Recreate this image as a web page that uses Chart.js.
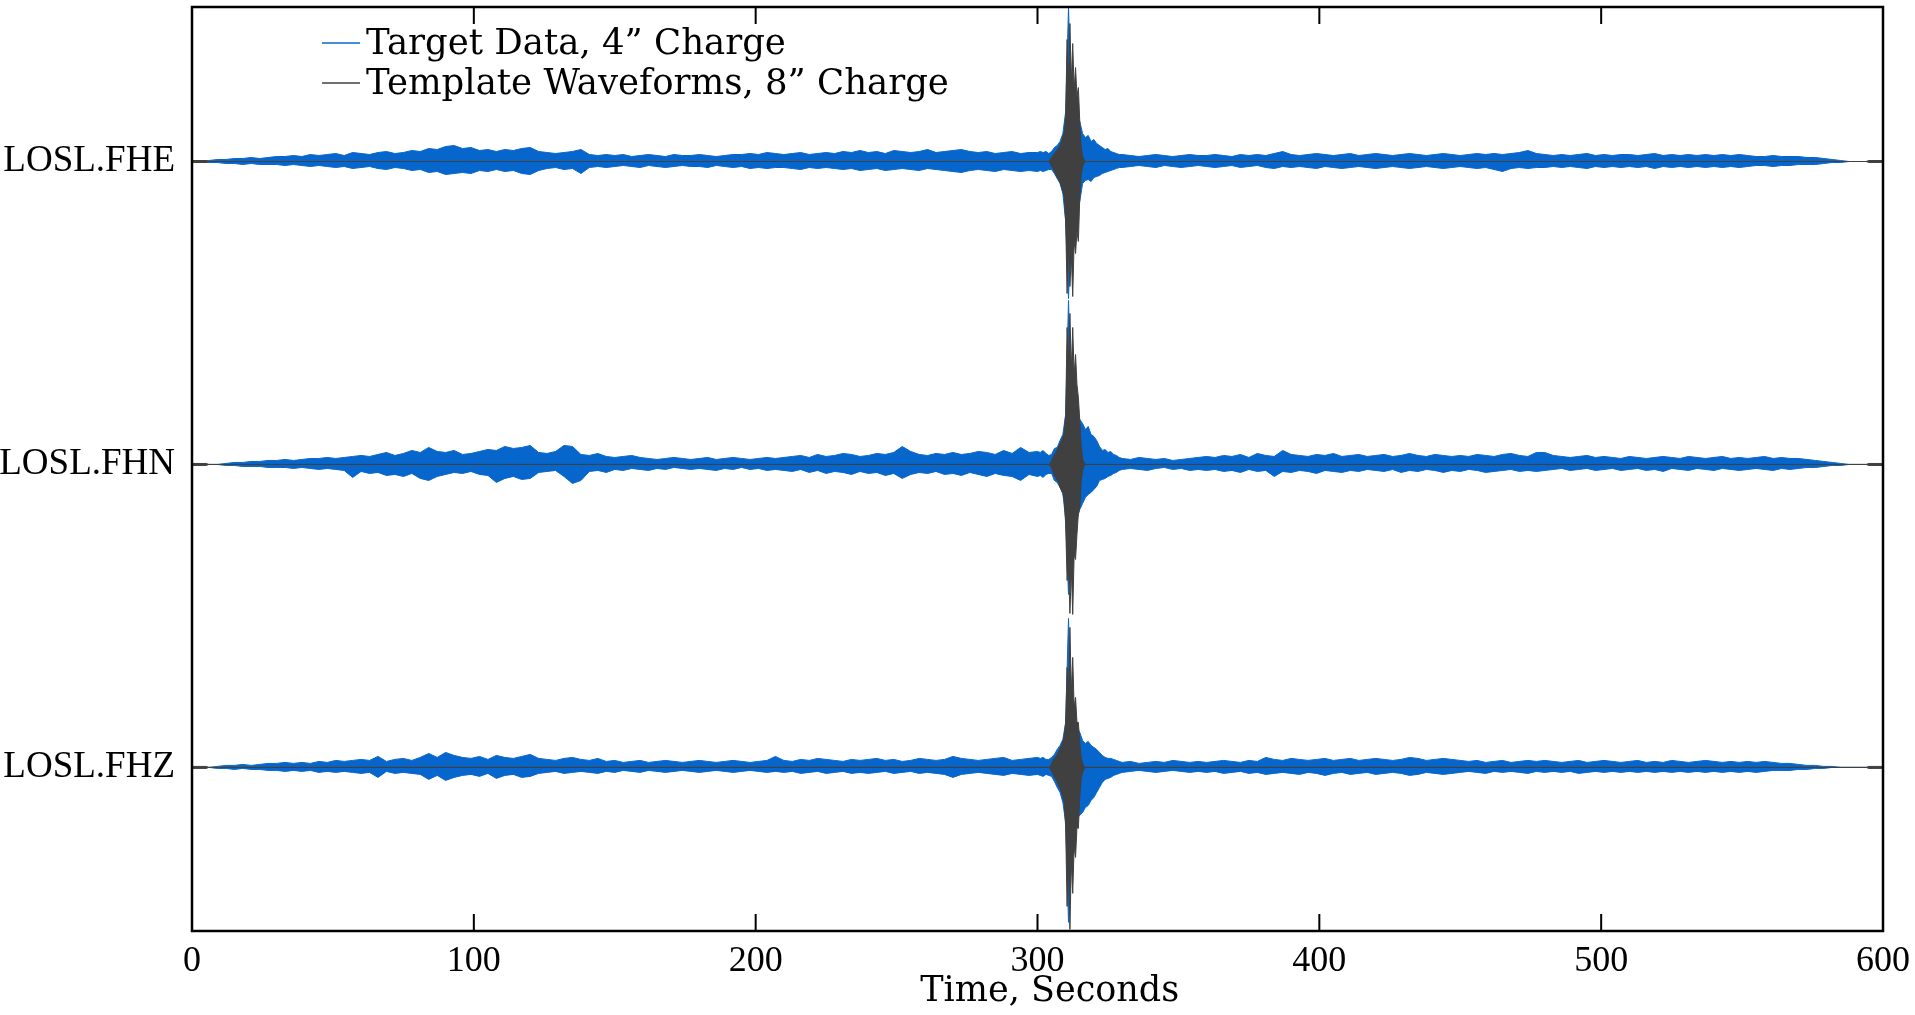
<!DOCTYPE html>
<html lang="en">
<head>
<meta charset="UTF-8" />
<title>LOSL waveforms</title>
<script src="https://cdn.jsdelivr.net/npm/chart.js"></script>
<style>
  html, body { margin: 0; padding: 0; background: #fff; }
  .wrap { width: 1915px; height: 1015px; position: relative; }
</style>
</head>
<body>
<div class="wrap"><canvas id="waveChart"></canvas></div>
<script>
const stations = ["LOSL.FHE", "LOSL.FHN", "LOSL.FHZ"];
const traceCenters = [3, 2, 1];
const xTicks = [0, 100, 200, 300, 400, 500, 600];
const seriesLabels = ["Target Data, 4\u201d Charge", "Template Waveforms, 8\u201d Charge"];

// sample times (s) of the target data envelope
const times = [
  0,3,6,9,12,15,18,21,24,27, 30,33,36,39,42,45,48,51,54,57,
  60,63,66,69,72,75,78,81,84,87, 90,93,96,99,102,105,108,111,114,117,
  120,123,126,129,132,135,138,141,144,147, 150,153,156,159,162,165,168,171,174,177,
  180,183,186,189,192,195,198,201,204,207, 210,213,216,219,222,225,228,231,234,237,
  240,243,246,249,252,255,258,261,264,267, 270,273,276,279,282,285,288,291,294,297,
  300,
  301,302,303,304,305,306,307,308,309,310, 311,312,313,314,315,316,317,318,319,320,
  321,322,323,324,325,326,327,328,329,
  330,333,336,339,342,345,348,351,354,357, 360,363,366,369,372,375,378,381,384,387,
  390,393,396,399,402,405,408,411,414,417, 420,423,426,429,432,435,438,441,444,447,
  450,453,456,459,462,465,468,471,474,477, 480,483,486,489,492,495,498,501,504,507,
  510,513,516,519,522,525,528,531,534,537, 540,543,546,549,552,555,558,561,564,567,
  570,573,576,579,582,585,588,591,594,597,
  600
];

// target data: upper / lower peak amplitude (counts)
const fheUp = [
  0,0,1,2,2,3,3,4,3,4, 5,5,6,5,7,6,7,8,6,9, 8,7,9,10,8,9,11,10,13,12, 15,16,13,14,11,12,10,12,11,13,
  14,10,9,8,9,10,12,7,6,7, 6,7,5,6,7,6,5,7,6,6, 7,6,5,6,7,7,8,7,9,8, 7,8,9,7,8,9,8,10,9,11,
  9,10,8,11,10,9,10,12,9,10, 11,12,10,9,10,8,9,10,8,9, 9,
  10,9,10,8,10,14,16,20,28,50, 154,55,50,45,40,28,24,26,20,22, 18,16,14,12,13,10,9,8,7,
  7,6,5,6,7,6,5,6,7,6, 6,7,6,5,7,6,7,6,8,10, 7,6,7,8,7,6,7,8,6,7, 8,7,6,7,8,7,6,7,8,7,
  6,7,8,7,8,7,8,9,11,8, 7,6,7,6,7,8,6,7,6,7, 7,6,7,8,6,7,6,7,6,7, 6,7,6,7,6,5,5,6,5,5,
  5,4,4,3,2,1,0,0,0,0, 0
];
const fheDown = [
  0,0,1,1,2,2,3,2,3,3, 3,4,3,4,5,4,5,6,5,7, 6,5,7,8,6,7,9,8,11,10, 13,12,11,12,9,10,8,10,9,12,
  13,9,7,6,8,7,12,6,5,6, 5,4,5,6,4,5,6,5,4,5, 5,6,4,5,6,5,7,6,7,6, 6,7,8,6,7,6,7,8,7,9,
  8,7,9,8,7,8,9,7,8,9, 10,11,9,8,9,10,8,9,10,9, 10,
  9,10,9,8,8,12,17,22,32,60, 137,60,55,50,40,22,19,18,20,16, 15,14,12,11,10,9,8,7,6,
  6,5,4,5,6,4,5,6,5,4, 5,6,5,4,6,5,4,6,7,5, 6,5,6,7,5,6,7,6,5,6, 7,6,5,6,7,6,5,6,7,6,
  5,6,7,6,8,10,7,6,7,6, 6,5,6,5,6,7,5,6,5,6, 5,6,5,7,5,6,5,6,5,6, 5,6,5,6,5,4,4,5,4,4,
  3,3,3,2,1,1,0,0,0,0, 0
];
const fhnUp = [
  0,0,0,0,1,2,2,3,3,4, 4,5,4,5,6,6,7,6,7,8, 9,8,10,12,9,11,14,12,17,13, 12,14,10,11,13,15,14,18,16,17,
  19,12,11,13,19,18,10,9,11,8, 7,8,9,7,6,5,6,7,6,5, 6,7,5,6,7,6,5,6,7,6, 7,8,9,7,10,8,9,11,10,8,
  9,11,10,12,18,13,10,9,11,10, 12,10,11,13,12,10,14,11,17,12, 13,
  12,14,11,9,10,16,17,24,30,50, 164,60,55,50,45,41,35,38,30,28, 24,18,14,15,12,13,10,9,7,
  6,5,7,6,5,6,4,5,6,7, 8,7,9,8,10,7,11,9,8,14, 10,9,8,10,9,11,8,9,10,8, 9,10,8,9,11,9,8,10,9,8,
  9,8,10,9,8,10,11,9,8,12, 12,9,8,7,8,9,7,8,7,6, 8,7,6,7,8,7,6,8,7,6, 7,8,6,7,6,7,8,6,7,6,
  6,5,4,3,2,1,0,0,0,0, 0
];
const fhnDown = [
  0,0,0,0,1,1,2,2,2,3, 3,3,4,3,4,5,4,5,6,13, 7,9,8,11,10,12,9,14,16,12, 10,8,9,7,10,11,18,14,12,15,
  14,8,7,6,12,19,16,7,6,8, 5,6,4,5,6,4,5,3,4,5, 4,5,6,4,5,3,5,4,6,5, 6,7,5,8,6,9,7,8,10,7,
  9,8,11,9,14,10,8,9,7,10, 9,11,8,10,12,9,11,12,16,10, 12,
  11,13,10,9,9,16,18,23,29,55, 130,65,60,55,45,39,33,30,28,25, 22,16,15,14,12,11,9,8,6,
  5,4,5,6,4,3,5,4,6,5, 6,5,7,6,8,5,7,6,12,7, 8,6,7,9,6,7,8,6,7,5, 6,7,5,8,6,7,5,6,8,6,
  7,5,6,8,7,6,5,7,6,7, 6,5,4,6,5,4,6,5,4,6, 5,4,6,5,7,4,5,6,4,5, 6,4,5,6,5,4,5,6,4,5,
  4,3,3,2,1,1,0,0,0,0, 0
];
const fhzUp = [
  0,0,0,1,2,2,3,2,3,4, 4,5,4,5,4,6,5,7,6,7, 8,7,11,6,8,9,7,10,14,10, 15,12,10,9,11,8,12,10,9,11,
  13,9,8,7,9,10,8,7,9,6, 7,5,6,7,5,6,7,6,5,6, 7,6,5,6,7,6,5,6,7,11, 7,6,8,7,9,8,7,6,8,7,
  8,9,7,8,6,7,9,8,7,8, 11,9,8,7,8,9,10,7,8,9, 10,
  9,10,8,8,10,13,18,22,28,45, 149,50,45,40,35,27,24,26,22,20, 18,15,12,10,9,9,8,7,6,
  5,6,4,5,6,5,7,6,5,6, 5,6,7,6,5,7,6,10,8,7, 9,8,7,8,9,7,8,9,7,8, 9,8,7,8,10,9,7,8,9,8,
  7,6,7,5,6,7,5,6,7,6, 7,6,5,6,7,5,6,7,6,5, 6,7,5,6,5,7,6,5,6,7, 6,5,6,5,6,5,6,5,4,4,
  3,2,2,1,1,0,0,0,0,0, 0
];
const fhzDown = [
  0,0,0,1,1,2,1,2,2,3, 3,4,3,4,3,5,4,5,4,5, 6,5,10,4,6,5,6,7,12,8, 13,10,8,7,9,6,11,8,7,10,
  9,6,5,4,6,5,4,5,6,4, 5,3,4,5,3,4,5,4,3,4, 5,4,3,4,5,4,3,4,5,4, 5,4,6,5,4,6,5,4,6,5,
  6,5,4,6,5,4,6,5,6,7, 10,7,6,5,6,7,8,6,7,8, 7,
  8,9,7,8,9,14,20,25,35,55, 155,60,55,50,48,45,40,38,33,30, 25,20,15,12,11,10,8,7,6,
  5,4,3,4,5,4,3,4,5,4, 5,4,6,5,4,6,5,7,6,5, 6,7,5,6,8,6,5,7,6,5, 7,6,5,6,8,7,5,6,7,6,
  5,4,5,6,4,5,4,5,6,4, 5,4,5,4,6,5,4,5,4,5, 4,5,4,5,4,5,4,5,4,5, 4,5,4,5,4,5,4,3,3,3,
  2,2,1,1,0,0,0,0,0,0, 0
];

// template waveforms: sample times (s) and upper / lower amplitude (counts)
const tplTimes = [
  0, 5, 6,
  303,303.5,304,304.5,305,305.5,306,306.5,307,307.5,308,308.5,309,309.5,310,310.5,
  311,311.5,312,312.5,313,313.5,314,314.5,315,315.5,316,316.5,317,317.5,318,
  594, 595, 600
];
const fheTplUp   = [1,1,0, 0,0,0,2,4,6,8,10,12,14,16,20,25,30,45,122,75,138,80,118,72,94,65,74,40,15,5,2,0,0,0, 0,1,1];
const fheTplDown = [1,1,0, 0,0,0,2,5,7,10,13,16,18,21,25,30,36,60,132,85,125,95,135,80,92,70,80,36,14,5,2,0,0,0, 0,1,1];
const fhnTplUp   = [1,1,0, 0,0,0,1,4,7,10,12,15,18,21,24,27,33,50,137,100,151,95,137,90,110,80,67,44,20,6,2,0,0,0, 0,1,1];
const fhnTplDown = [1,1,0, 0,0,0,1,4,8,11,13,16,19,23,26,29,36,60,116,100,149,105,150,90,95,70,49,43,18,6,2,0,0,0, 0,1,1];
const fhzTplUp   = [1,1,0, 0,0,0,1,4,7,9,11,13,16,19,22,26,32,45,100,70,140,75,110,60,70,45,45,25,10,4,1,0,0,0, 0,1,1];
const fhzTplDown = [1,1,0, 0,0,0,1,4,7,10,12,15,18,21,25,30,36,60,139,90,162,95,126,80,90,60,61,30,12,5,2,0,0,0, 0,1,1];

const COUNTS_PER_TRACE = 303;
const BLUE = "#0766cc";
const GRAY = "#404040";
const serifTicks = "'Liberation Serif', 'Times New Roman', serif";
const serifText = "'DejaVu Serif', serif";

const targetUp = [fheUp, fhnUp, fhzUp];
const targetDown = [fheDown, fhnDown, fhzDown];
const tplUp = [fheTplUp, fhnTplUp, fhzTplUp];
const tplDown = [fheTplDown, fhnTplDown, fhzTplDown];

function toPoints(t, amp, center, sign) {
  return t.map((x, i) => ({ x: x, y: center + sign * amp[i] / COUNTS_PER_TRACE }));
}

function bandPair(label, t, up, down, center, color) {
  const base = { label: label, borderColor: color, backgroundColor: color, borderWidth: 1,
                 pointRadius: 0, tension: 0 };
  return [
    Object.assign({}, base, { data: toPoints(t, up, center, 1), fill: false }),
    Object.assign({}, base, { data: toPoints(t, down, center, -1), fill: "-1" })
  ];
}

const datasets = [];
// template first so it is drawn on top of the target data
traceCenters.forEach((c, k) => datasets.push(...bandPair(seriesLabels[1], tplTimes, tplUp[k], tplDown[k], c, GRAY)));
traceCenters.forEach((c, k) => datasets.push(...bandPair(seriesLabels[0], times, targetUp[k], targetDown[k], c, BLUE)));

const framePlugin = {
  id: "frame",
  afterDatasetsDraw(chart) {
    const { ctx, chartArea: a, scales } = chart;
    ctx.save();
    ctx.strokeStyle = "#000";
    ctx.lineWidth = 2.5;
    ctx.strokeRect(a.left, a.top, a.right - a.left, a.bottom - a.top);
    ctx.lineWidth = 2;
    xTicks.forEach(v => {
      const px = scales.x.getPixelForValue(v);
      ctx.beginPath();
      ctx.moveTo(px, a.bottom); ctx.lineTo(px, a.bottom - 17);
      ctx.moveTo(px, a.top); ctx.lineTo(px, a.top + 17);
      ctx.stroke();
    });
    ctx.restore();
  }
};

const legendPlugin = {
  id: "waveLegend",
  afterDraw(chart) {
    const { ctx, chartArea: a } = chart;
    const colors = [BLUE, GRAY];
    ctx.save();
    ctx.font = "35.5px " + serifText;
    ctx.textBaseline = "alphabetic";
    ctx.fillStyle = "#000";
    seriesLabels.forEach((txt, i) => {
      const y = a.top + 36 + i * 40;
      ctx.strokeStyle = colors[i];
      ctx.lineWidth = 1.5;
      ctx.beginPath();
      ctx.moveTo(a.left + 130, y);
      ctx.lineTo(a.left + 168, y);
      ctx.stroke();
      ctx.fillText(txt, a.left + 174, y + 11);
    });
    ctx.restore();
  }
};

new Chart(document.getElementById("waveChart"), {
  type: "line",
  data: { datasets: datasets },
  options: {
    responsive: true,
    maintainAspectRatio: false,
    animation: false,
    layout: { padding: { top: 7, right: 32, left: 0, bottom: 0 } },
    plugins: { legend: { display: false }, tooltip: { enabled: false } },
    scales: {
      x: {
        type: "linear", min: 0, max: 600, position: "bottom",
        afterBuildTicks: s => { s.ticks = xTicks.map(v => ({ value: v })); },
        ticks: { color: "#000", font: { family: serifTicks, size: 36 }, padding: 9, maxRotation: 0 },
        grid: { display: false, drawTicks: false },
        border: { display: false },
        title: { display: true, text: "\u2002\u2009Time, Seconds", color: "#000",
                 font: { family: serifText, size: 35 }, padding: { top: 0, bottom: 2 } },
        afterFit: s => { s.height = 84; s.paddingLeft = 0; s.paddingRight = 0; }
      },
      y: {
        type: "linear", min: 0.46, max: 3.51,
        afterBuildTicks: s => { s.ticks = traceCenters.map(v => ({ value: v })); },
        ticks: { color: "#000", font: { family: serifTicks, size: 37 }, padding: 17,
                 callback: v => stations[traceCenters.indexOf(v)] },
        grid: { display: false, drawTicks: false },
        border: { display: false },
        afterFit: s => { s.width = 192; s.paddingTop = 0; s.paddingBottom = 0; }
      }
    }
  },
  plugins: [framePlugin, legendPlugin]
});
</script>
</body>
</html>
